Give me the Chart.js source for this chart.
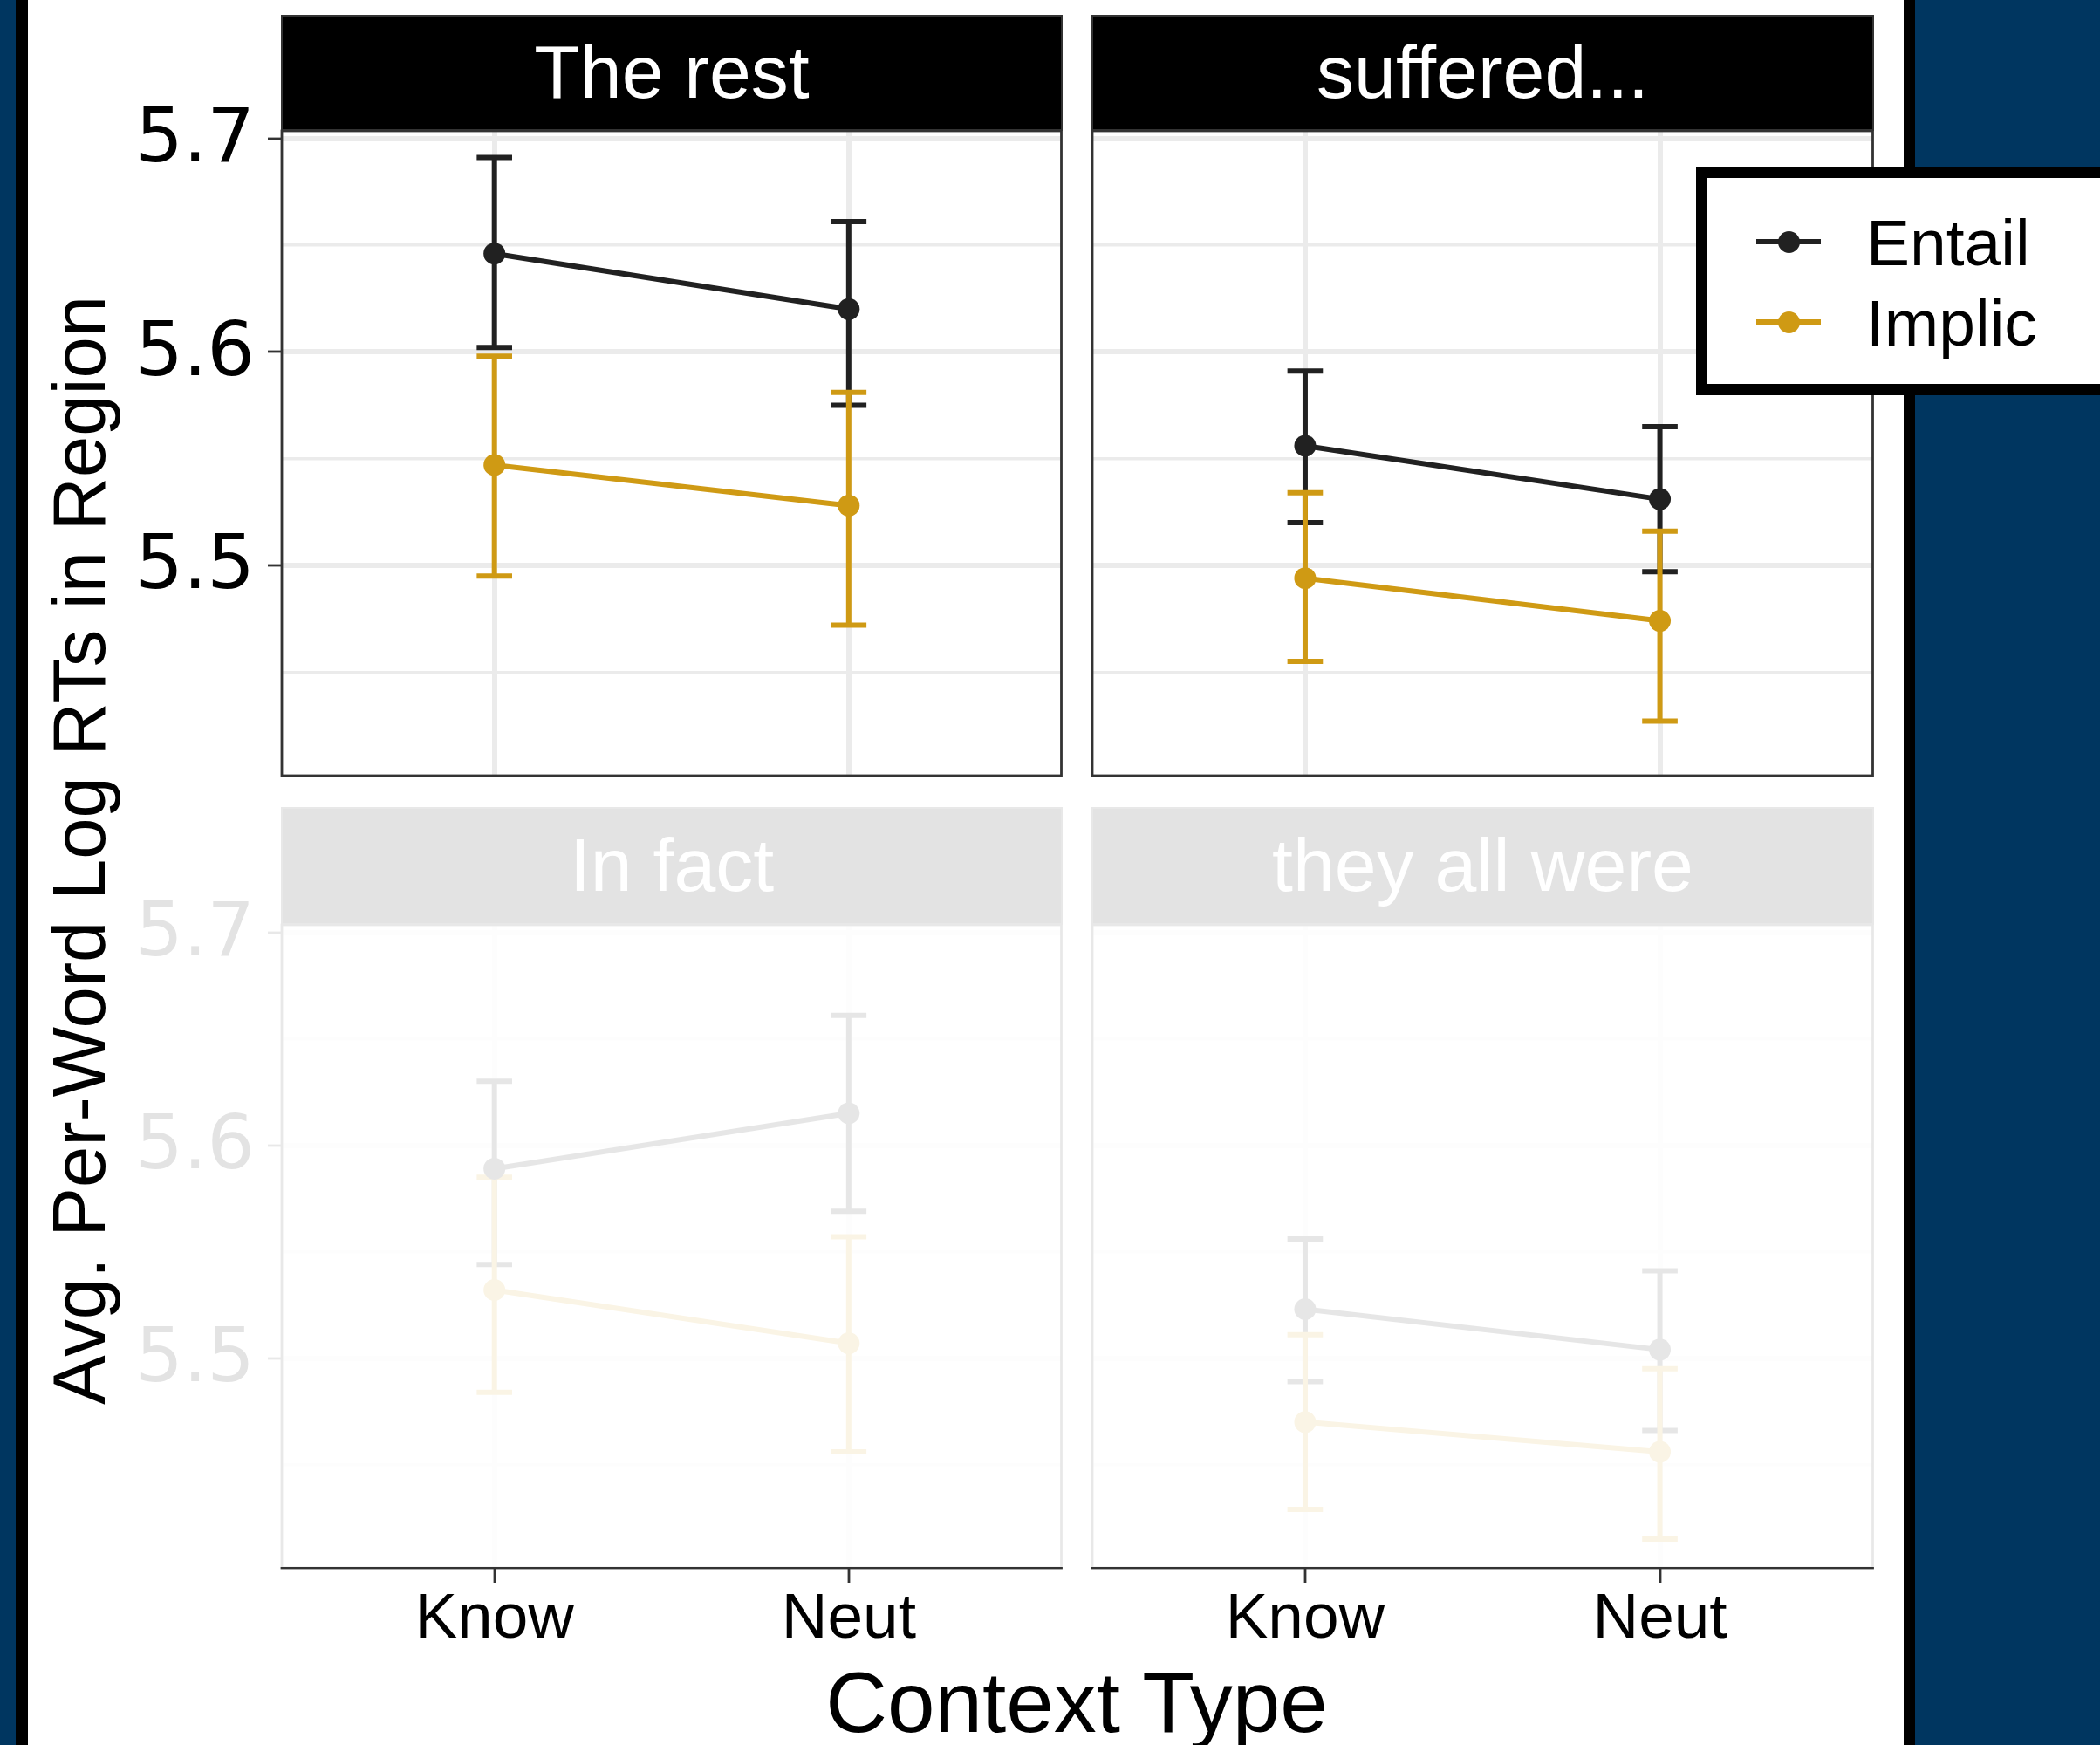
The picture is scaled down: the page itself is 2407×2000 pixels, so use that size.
<!DOCTYPE html>
<html>
<head>
<meta charset="utf-8">
<title>Avg. Per-Word Log RTs in Region by Context Type</title>
<script src="https://cdn.jsdelivr.net/npm/chart.js@4.4.1/dist/chart.umd.min.js"></script>
<style>
  html, body { margin: 0; padding: 0; }
  body {
    width: 2407px; height: 2000px; overflow: hidden; position: relative;
    background: #003660;
    font-family: "Liberation Sans", Arial, Helvetica, sans-serif;
  }
  .abs { position: absolute; }
  .strip {
    box-sizing: border-box; background: #000; border: 2.8px solid #333;
    color: #fff; text-align: center; font-size: 86px; white-space: nowrap;
  }
  .legtext { font-size: 75px; line-height: 75px; color: #000; white-space: nowrap; }
</style>
</head>
<body>
<div class="abs" style="left:18.3px;top:0;width:14px;height:2000px;background:#000;"></div>
<div class="abs" style="left:32.3px;top:0;width:2149.4px;height:2000px;background:#fff;"></div>
<div class="abs" style="left:2181.7px;top:0;width:13.3px;height:2000px;background:#000;"></div>
<div id="root"></div>

<script>
// Facets, categories and series
const categories  = ['Know', 'Neut'];
const facetTitles = ['The rest', 'suffered...', 'In fact', 'they all were'];
const seriesNames = ['Entail', 'Implic'];

// y-axis breaks: majors are labelled, minors only get a grid line
const yMajorTicks = [5.5, 5.6, 5.7];
const yMinorTicks = [5.45, 5.55, 5.65];
const yTickLabels = ['5.5', '5.6', '5.7'];

// One row per facet, one column per category (Know, Neut)
const entailMean  = [[5.646, 5.620], [5.556, 5.531], [5.589, 5.615], [5.523, 5.504]];
const entailLower = [[5.602, 5.575], [5.520, 5.497], [5.544, 5.569], [5.489, 5.466]];
const entailUpper = [[5.691, 5.661], [5.591, 5.565], [5.630, 5.661], [5.556, 5.541]];
const implicMean  = [[5.547, 5.528], [5.494, 5.474], [5.532, 5.507], [5.470, 5.456]];
const implicLower = [[5.495, 5.472], [5.455, 5.427], [5.484, 5.456], [5.429, 5.415]];
const implicUpper = [[5.598, 5.581], [5.534, 5.516], [5.585, 5.557], [5.511, 5.495]];

// ---- appearance ----
const COLORS = { Entail: '#212121', Implic: '#CF9A14' };
const GRID_COLOR = '#EBEBEB';
const FRAME_COLOR = '#333333';
const Y_MIN = 5.4015, Y_MAX = 5.7035;   // shared y range across facets
const X_MIN = 0.4, X_MAX = 2.6;         // two discrete positions with side expansion
const CAP_HALF = 0.05;                  // half width of error-bar caps, in x units

// panel geometry (page pixels)
const COLS = [{ left: 323, right: 1217 }, { left: 1252, right: 2147 }];
const ROWS = [{ stripTop: 17, top: 150, bottom: 889 }, { stripTop: 925, top: 1060, bottom: 1797 }];

Chart.defaults.font.family = '"Liberation Sans", Arial, Helvetica, sans-serif';
Chart.defaults.animation = false;

const root = document.getElementById('root');
const isMajor = v => yMajorTicks.some(m => Math.abs(m - v) < 1e-9);

function errorBarPoints(lower, upper) {
  const pts = [];
  categories.forEach((c, i) => {
    const x = i + 1;
    pts.push({ x, y: lower[i] }, { x, y: upper[i] }, { x, y: null });
    pts.push({ x: x - CAP_HALF, y: upper[i] }, { x: x + CAP_HALF, y: upper[i] }, { x, y: null });
    pts.push({ x: x - CAP_HALF, y: lower[i] }, { x: x + CAP_HALF, y: lower[i] }, { x, y: null });
  });
  return pts;
}

function meanPoints(mean) {
  return categories.map((c, i) => ({ x: i + 1, y: mean[i] }));
}

const panelFrame = {
  id: 'panelFrame',
  afterDatasetsDraw(chart) {
    const a = chart.chartArea, ctx = chart.ctx;
    ctx.save();
    ctx.strokeStyle = FRAME_COLOR;
    ctx.lineWidth = 2.8;
    ctx.strokeRect(a.left, a.top, a.right - a.left, a.bottom - a.top);
    ctx.restore();
  }
};

facetTitles.forEach((title, f) => {
  const col = f % 2, row = Math.floor(f / 2);
  const C = COLS[col], R = ROWS[row];
  const showY = col === 0, showX = row === 1;

  const canvasLeft = showY ? 140 : C.left - 20;
  const canvasTop = R.stripTop;
  const padRight = 12;
  const xAxisH = showX ? 110 : 0;
  // room below the panel so the lowest y label never squeezes the plot area
  const padBottom = showX ? 0 : 70;
  const w = C.right + padRight - canvasLeft;
  const h = R.bottom + xAxisH + padBottom - canvasTop;

  const cv = document.createElement('canvas');
  cv.width = w; cv.height = h;
  cv.className = 'abs';
  cv.style.left = canvasLeft + 'px';
  cv.style.top = canvasTop + 'px';
  cv.style.width = w + 'px';
  cv.style.height = h + 'px';
  cv.style.zIndex = 1;
  root.appendChild(cv);

  const lineStyle = name => ({
    borderColor: COLORS[name], backgroundColor: COLORS[name],
    borderWidth: 6, pointRadius: 12.5, pointBorderWidth: 0,
    pointBackgroundColor: COLORS[name], pointHoverRadius: 12.5, tension: 0
  });
  const errStyle = name => ({
    borderColor: COLORS[name], borderWidth: 6, pointRadius: 0, pointHoverRadius: 0,
    borderCapStyle: 'butt', spanGaps: false, tension: 0
  });

  new Chart(cv, {
    type: 'line',
    data: {
      datasets: [
        Object.assign({ label: seriesNames[1], data: meanPoints(implicMean[f]), order: 0 }, lineStyle('Implic')),
        Object.assign({ label: seriesNames[0], data: meanPoints(entailMean[f]), order: 1 }, lineStyle('Entail')),
        Object.assign({ label: seriesNames[1] + ' CI', data: errorBarPoints(implicLower[f], implicUpper[f]), order: 2 }, errStyle('Implic')),
        Object.assign({ label: seriesNames[0] + ' CI', data: errorBarPoints(entailLower[f], entailUpper[f]), order: 3 }, errStyle('Entail'))
      ]
    },
    options: {
      responsive: false,
      animation: false,
      events: [],
      layout: { padding: { top: R.top - R.stripTop, right: padRight, bottom: padBottom, left: 0 } },
      plugins: { legend: { display: false }, tooltip: { enabled: false }, title: { display: false } },
      scales: {
        x: {
          type: 'linear', min: X_MIN, max: X_MAX,
          afterBuildTicks: axis => { axis.ticks = categories.map((c, i) => ({ value: i + 1 })); },
          afterFit: axis => { axis.height = xAxisH; },
          border: { display: false },
          grid: {
            display: true, drawOnChartArea: true, color: GRID_COLOR, lineWidth: 6,
            drawTicks: showX, tickLength: 17, tickColor: FRAME_COLOR, tickWidth: 2.8
          },
          ticks: {
            display: showX, autoSkip: false, maxRotation: 0, minRotation: 0, padding: 6,
            color: '#000', font: { size: 73, lineHeight: 1.0 },
            callback: v => categories[Math.round(v) - 1]
          }
        },
        y: {
          type: 'linear', min: Y_MIN, max: Y_MAX,
          afterBuildTicks: axis => {
            axis.ticks = yMinorTicks.concat(yMajorTicks).sort((a, b) => a - b).map(v => ({ value: v }));
          },
          afterFit: axis => { axis.width = C.left - canvasLeft; },
          border: { display: false },
          grid: {
            display: true, drawOnChartArea: true, color: GRID_COLOR,
            lineWidth: ctx => (ctx.tick && !isMajor(ctx.tick.value)) ? 3.5 : 6,
            drawTicks: showY, tickLength: 16,
            tickColor: ctx => (ctx.tick && isMajor(ctx.tick.value)) ? FRAME_COLOR : 'rgba(0,0,0,0)',
            tickWidth: 2.8
          },
          ticks: {
            display: showY, autoSkip: false, padding: 15, labelOffset: 4,
            color: '#000', font: { family: '"DejaVu Sans", "Liberation Sans", sans-serif', size: 86, lineHeight: 1.0 },
            callback: v => {
              const k = yMajorTicks.findIndex(m => Math.abs(m - v) < 1e-9);
              return k >= 0 ? yTickLabels[k] : '';
            }
          }
        }
      }
    },
    plugins: [panelFrame]
  });

  // facet strip
  const s = document.createElement('div');
  s.className = 'abs strip';
  const sh = R.top - R.stripTop;
  s.style.left = (C.left - 1.4) + 'px';
  s.style.top = R.stripTop + 'px';
  s.style.width = (C.right - C.left + 2.8) + 'px';
  s.style.height = sh + 'px';
  s.style.lineHeight = (sh - 5.6) + 'px';
  s.style.zIndex = 2;
  s.textContent = title;
  root.appendChild(s);
});

// bottom row shown dimmed
const veil = document.createElement('div');
veil.className = 'abs';
Object.assign(veil.style, {
  left: '148px', top: '905px', width: (2162 - 148) + 'px', height: (1795.6 - 905) + 'px',
  background: 'rgba(255,255,255,0.89)', zIndex: 5
});
root.appendChild(veil);

// axis titles
const yTitle = document.createElement('div');
yTitle.className = 'abs';
Object.assign(yTitle.style, {
  left: (89.8 - 700) + 'px', top: (974 - 42.5) + 'px', width: '1400px', height: '85px',
  lineHeight: '85px', fontSize: '85px', textAlign: 'center', color: '#000',
  transform: 'rotate(-90deg)', whiteSpace: 'nowrap', zIndex: 6
});
yTitle.textContent = 'Avg. Per-Word Log RTs in Region';
root.appendChild(yTitle);

const xTitle = document.createElement('div');
xTitle.className = 'abs';
Object.assign(xTitle.style, {
  left: (1234 - 700) + 'px', top: '1902px', width: '1400px', height: '98px',
  lineHeight: '98px', fontSize: '98px', textAlign: 'center', color: '#000',
  whiteSpace: 'nowrap', zIndex: 6
});
xTitle.textContent = 'Context Type';
root.appendChild(xTitle);

// legend
const legBox = document.createElement('div');
legBox.className = 'abs';
Object.assign(legBox.style, {
  left: '1944.3px', top: '190.7px', width: '520px', height: '262.6px', boxSizing: 'border-box',
  border: '13px solid #000', background: '#fff', zIndex: 6
});
root.appendChild(legBox);

const legendRows = [277.3, 369.3];
seriesNames.forEach((name, i) => {
  const cy = legendRows[i];
  const line = document.createElement('div');
  line.className = 'abs';
  Object.assign(line.style, {
    left: '2012.7px', top: (cy - 3) + 'px', width: '74px', height: '6px',
    background: COLORS[name], zIndex: 7
  });
  root.appendChild(line);
  const dot = document.createElement('div');
  dot.className = 'abs';
  Object.assign(dot.style, {
    left: (2050 - 12.5) + 'px', top: (cy - 12.5) + 'px', width: '25px', height: '25px',
    borderRadius: '50%', background: COLORS[name], zIndex: 7
  });
  root.appendChild(dot);
  const txt = document.createElement('div');
  txt.className = 'abs legtext';
  txt.style.left = '2139px';
  txt.style.top = (cy + 27.2 - 63.5) + 'px';
  txt.style.zIndex = 7;
  txt.textContent = name;
  root.appendChild(txt);
});
</script>
</body>
</html>
